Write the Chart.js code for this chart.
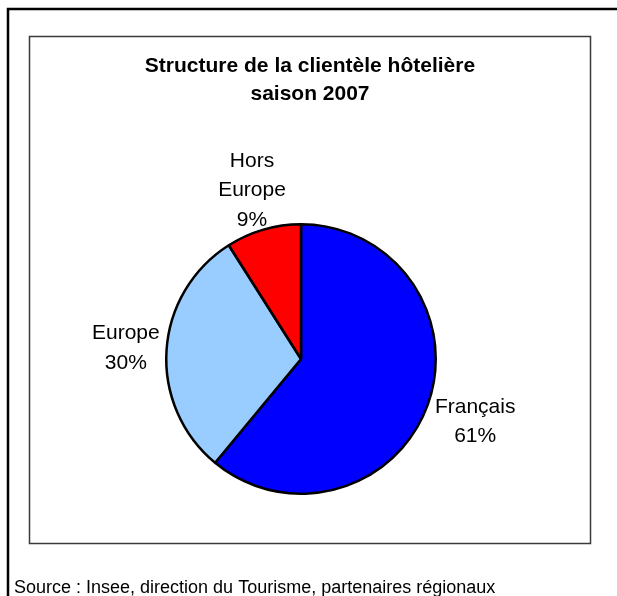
<!DOCTYPE html>
<html>
<head>
<meta charset="utf-8">
<script src="https://cdn.jsdelivr.net/npm/chart.js@4.4.0/dist/chart.umd.min.js"></script>
<style>
  html, body { margin: 0; padding: 0; background: #ffffff; }
  #wrap { width: 617px; height: 596px; position: relative; }
</style>
</head>
<body>
<div id="wrap"><canvas id="c" width="617" height="596"></canvas></div>
<script>
// ---- data ----
const categories = ['Français', 'Europe', 'Hors Europe'];
const labelLines = [['Français'], ['Europe'], ['Hors', 'Europe']];
const values = [61, 30, 9];
const sliceColors = ['#0000FF', '#99CCFF', '#FF0000'];
const titleLines = ['Structure de la clientèle hôtelière', 'saison 2007'];
const sourceText = 'Source : Insee, direction du Tourisme, partenaires régionaux';

const FONT = '"Liberation Sans", Arial, sans-serif';

const framePlugin = {
  id: 'frame',
  beforeDraw(chart) {
    const ctx = chart.ctx;
    ctx.save();
    ctx.fillStyle = '#ffffff';
    ctx.fillRect(0, 0, chart.width, chart.height);
    // outer frame (left and top)
    ctx.strokeStyle = '#000000';
    ctx.lineWidth = 2.5;
    ctx.beginPath();
    ctx.moveTo(8, chart.height);
    ctx.lineTo(8, 9);
    ctx.lineTo(chart.width, 9);
    ctx.stroke();
    // inner box
    ctx.strokeStyle = '#3a3a3a';
    ctx.lineWidth = 1.5;
    ctx.strokeRect(29.5, 36.5, 561, 507);
    // title
    ctx.fillStyle = '#000000';
    ctx.font = 'bold 21px ' + FONT;
    ctx.textAlign = 'center';
    ctx.textBaseline = 'middle';
    titleLines.forEach((t, i) => ctx.fillText(t, 310, 66 + i * 28));
    // source
    ctx.font = '18px ' + FONT;
    ctx.textAlign = 'left';
    ctx.fillText(sourceText, 14, 588);
    ctx.restore();
  },
  afterDatasetsDraw(chart) {
    const ctx = chart.ctx;
    const meta = chart.getDatasetMeta(0);
    const total = values.reduce((a, b) => a + b, 0);
    ctx.save();
    ctx.font = '21px ' + FONT;
    ctx.fillStyle = '#000000';
    ctx.textAlign = 'center';
    ctx.textBaseline = 'middle';
    const lh = 29.5;
    meta.data.forEach((arc, i) => {
      const p = arc.getProps(['x', 'y', 'startAngle', 'endAngle', 'outerRadius'], true);
      const mid = (p.startAngle + p.endAngle) / 2;
      const cx = Math.cos(mid), sy = Math.sin(mid);
      const lines = labelLines[i].concat([Math.round(values[i] / total * 100) + '%']);
      let w = 0;
      lines.forEach(l => { w = Math.max(w, ctx.measureText(l).width); });
      const h = lines.length * lh;
      // label block sits just outside the slice, along its mid-angle
      const R = p.outerRadius - 10 + 0.75 * w;
      const bx = p.x + cx * R;
      const by = p.y + sy * R;
      lines.forEach((l, k) => {
        ctx.fillText(l, bx, by - h / 2 + lh * (k + 0.5));
      });
    });
    ctx.restore();
  }
};

new Chart(document.getElementById('c'), {
  type: 'pie',
  data: {
    labels: categories,
    datasets: [{
      data: values,
      backgroundColor: sliceColors,
      borderColor: '#000000',
      borderWidth: 2.5,
      hoverOffset: 0,
      offset: 0
    }]
  },
  options: {
    responsive: false,
    animation: false,
    events: [],
    layout: { padding: { left: 165, right: 180, top: 223, bottom: 101 } },
    plugins: {
      legend: { display: false },
      title: { display: false },
      tooltip: { enabled: false }
    }
  },
  plugins: [framePlugin]
});
</script>
</body>
</html>
